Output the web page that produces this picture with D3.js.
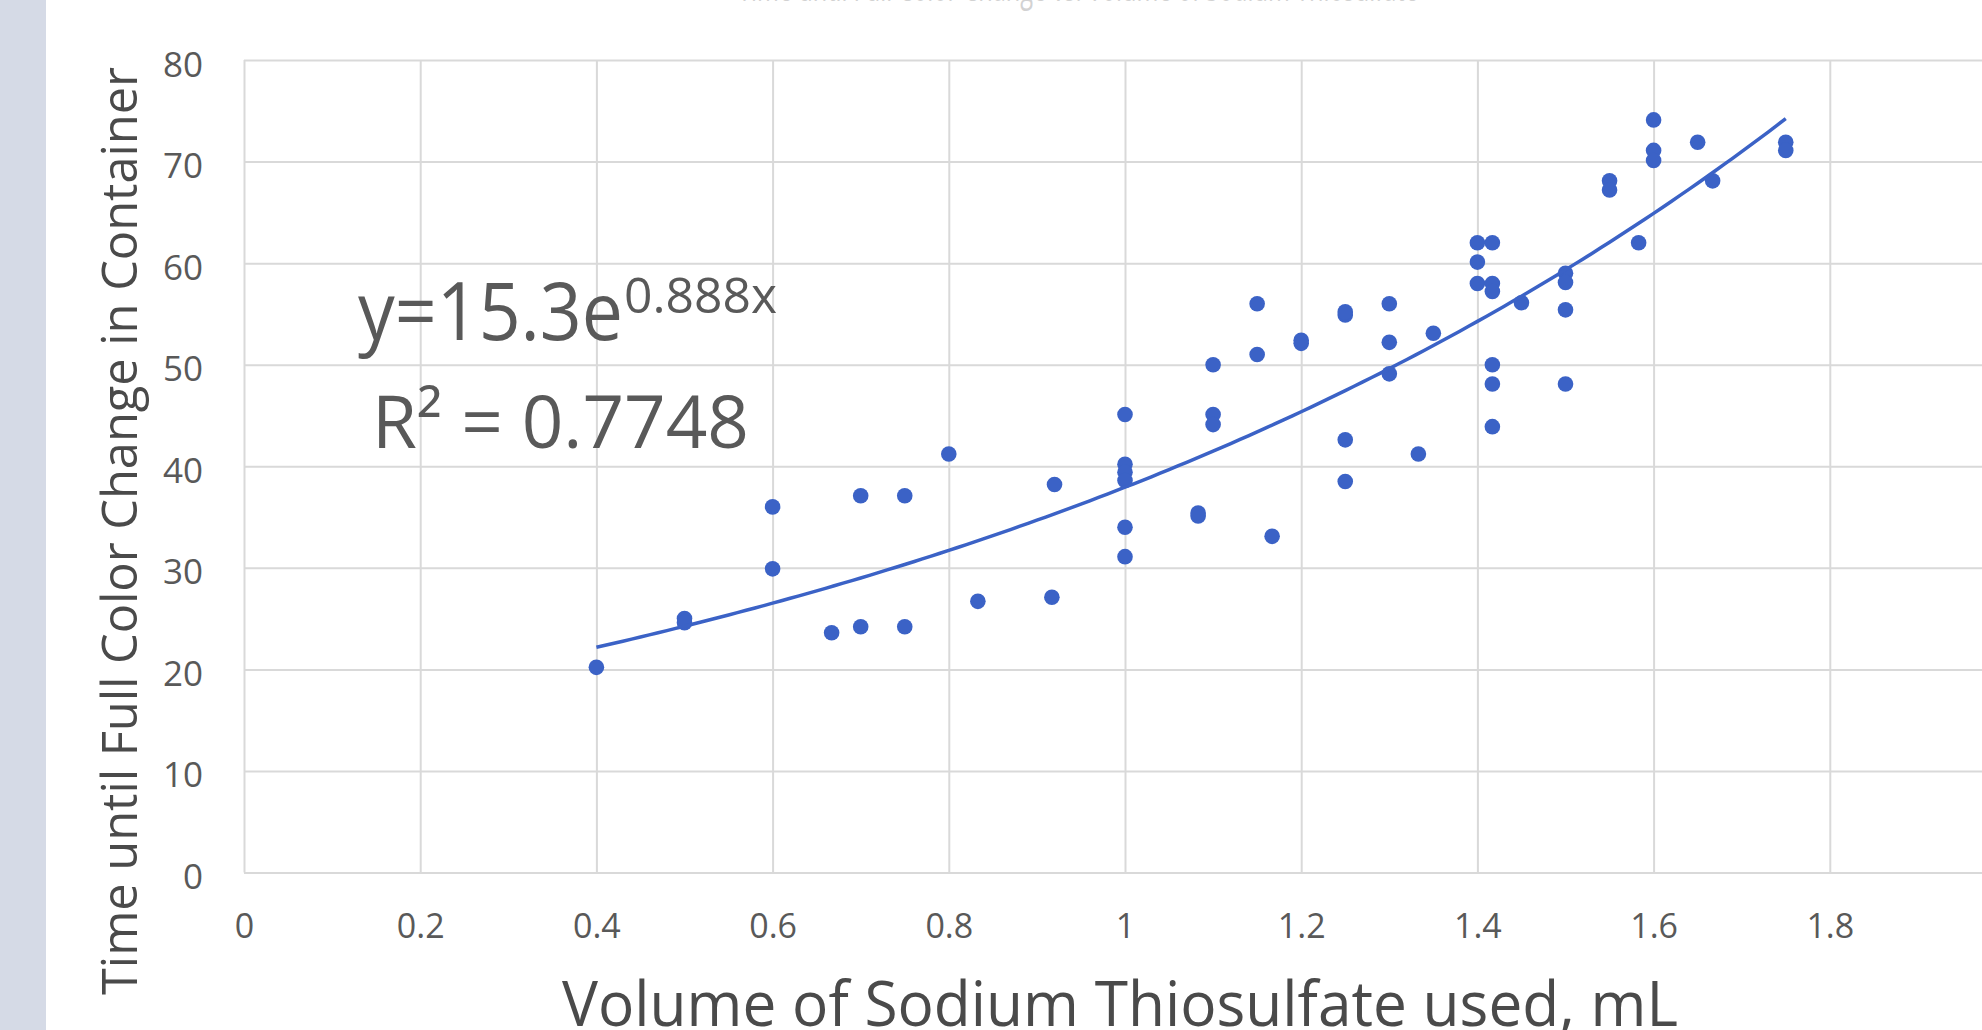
<!DOCTYPE html>
<html>
<head>
<meta charset="utf-8">
<script src="https://cdn.jsdelivr.net/npm/d3@7"></script>
<style>
body { margin: 0; background: #fff; overflow: hidden; }
text { font-family: "Open Sans", "DejaVu Sans", sans-serif; }
</style>
</head>
<body>
<svg id="chart" width="1982" height="1030"></svg>
<script>
// values
var volume = [0.4, 0.5, 0.5, 0.6, 0.6, 0.667, 0.7, 0.7, 0.75, 0.75,
              0.8, 0.833, 0.917, 0.92, 1.0, 1.0, 1.0, 1.0, 1.0, 1.0,
              1.083, 1.083, 1.1, 1.1, 1.1, 1.15, 1.15, 1.167, 1.2, 1.2,
              1.25, 1.25, 1.25, 1.25, 1.3, 1.3, 1.3, 1.333, 1.35, 1.4,
              1.417, 1.4, 1.4, 1.417, 1.417, 1.417, 1.417, 1.417, 1.45, 1.5,
              1.5, 1.5, 1.5, 1.55, 1.55, 1.583, 1.6, 1.6, 1.6, 1.65,
              1.667, 1.75, 1.75];
var time = [20.2, 25.0, 24.6, 36.0, 29.9, 23.6, 24.2, 37.1, 37.1, 24.2,
            41.2, 26.7, 27.1, 38.2, 45.1, 40.2, 39.4, 38.6, 34.0, 31.1,
            35.1, 35.4, 50.0, 45.1, 44.1, 56.0, 51.0, 33.1, 52.1, 52.4,
            54.9, 55.2, 42.6, 38.5, 56.0, 52.2, 49.1, 41.2, 53.1, 62.0,
            62.0, 60.1, 58.0, 58.0, 57.2, 50.0, 48.1, 43.9, 56.1, 59.0,
            58.1, 55.4, 48.1, 68.1, 67.2, 62.0, 74.1, 71.1, 70.1, 71.9,
            68.1, 71.9, 71.1];

var xTicks = [0, 0.2, 0.4, 0.6, 0.8, 1, 1.2, 1.4, 1.6, 1.8];
var yTicks = [0, 10, 20, 30, 40, 50, 60, 70, 80];

// exponential trendline y = a*e^(b*x); the drawn curve sits a bit above the printed label
var trendCoef = [15.5, 0.895];
var trendRange = [0.4, 1.75];

var chartTitle = "Time until Full Color Change vs. Volume of Sodium Thiosulfate";
var xTitle = "Volume of Sodium Thiosulfate used, mL";
var yTitle = "Time until Full Color Change in Container";
var eqMain = "y=15.3e", eqExp = "0.888x", r2Label = "R\u00B2 = 0.7748";

var blue = "#3b62c6";
var grid = "#d9d9d9";

var svg = d3.select("#chart");

var x = d3.scaleLinear().domain([0, 2]).range([244, 2006]);
var y = d3.scaleLinear().domain([0, 80]).range([872.5, 60]);

// grey strip on the left (slide background)
svg.append("rect").attr("x", 0).attr("y", 0).attr("width", 46).attr("height", 1030).attr("fill", "#d5dae6");

// faint title, almost all of it above the top edge
svg.append("text").attr("x", 1078).attr("y", 1).attr("text-anchor", "middle")
    .attr("font-size", 40).attr("fill", "#d2d2d2")
    .attr("textLength", 680).attr("lengthAdjust", "spacingAndGlyphs")
    .text(chartTitle);

// vertical gridlines + x tick labels
var xAxis = svg.append("g").attr("transform", "translate(0," + y(0) + ")")
    .call(d3.axisBottom(x).tickValues(xTicks).tickSize(-(y(0) - y(80))).tickFormat(d3.format("~g")));
xAxis.select(".domain").remove();
xAxis.selectAll("line").attr("stroke", grid).attr("stroke-width", 2);
xAxis.selectAll("text").attr("y", 65.5).attr("dy", 0)
    .attr("font-size", 34).attr("fill", "#595959");

// horizontal gridlines + y tick labels
var yAxis = svg.append("g").attr("transform", "translate(" + x(0) + ",0)")
    .call(d3.axisLeft(y).tickValues(yTicks).tickSize(-(x(2) - x(0))));
yAxis.select(".domain").remove();
yAxis.selectAll("line").attr("stroke", grid).attr("stroke-width", 2);
yAxis.selectAll("text").attr("x", -41).attr("y", 16).attr("dy", 0)
    .attr("font-size", 35).attr("fill", "#595959").attr("text-anchor", "end");

// points
svg.append("g").selectAll("circle")
    .data(volume.map(function(v, i) { return [v, time[i]]; }))
    .enter().append("circle")
    .attr("cx", function(d) { return x(d[0]); })
    .attr("cy", function(d) { return y(d[1]); })
    .attr("r", 7.8)
    .attr("fill", blue);

// trendline
var trendX = d3.range(trendRange[0], trendRange[1] + 0.0001, 0.01);
var line = d3.line()
    .x(function(d) { return x(d); })
    .y(function(d) { return y(trendCoef[0] * Math.exp(trendCoef[1] * d)); });
svg.append("path").datum(trendX)
    .attr("d", line)
    .attr("fill", "none")
    .attr("stroke", blue)
    .attr("stroke-width", 3.5);

// trendline label, exponent as a raised tspan
var eq = svg.append("text").attr("x", 358).attr("y", 340)
    .attr("font-size", 80).attr("fill", "#595959");
eq.append("tspan")
    .attr("textLength", 265).attr("lengthAdjust", "spacingAndGlyphs")
    .text(eqMain);
eq.append("tspan").attr("x", 624).attr("dy", -27)
    .attr("font-size", 49)
    .attr("textLength", 153).attr("lengthAdjust", "spacingAndGlyphs")
    .text(eqExp);
svg.append("text").attr("x", 372).attr("y", 448)
    .attr("font-size", 74).attr("fill", "#595959")
    .attr("textLength", 377).attr("lengthAdjust", "spacingAndGlyphs")
    .text(r2Label);

// axis titles
svg.append("text").attr("x", 562).attr("y", 1026)
    .attr("font-size", 62).attr("fill", "#4a4a4a")
    .attr("textLength", 1116).attr("lengthAdjust", "spacingAndGlyphs")
    .text(xTitle);
svg.append("text").attr("transform", "translate(137,995) rotate(-90)")
    .attr("font-size", 49).attr("fill", "#4a4a4a")
    .attr("textLength", 928).attr("lengthAdjust", "spacingAndGlyphs")
    .text(yTitle);
</script>
</body>
</html>
